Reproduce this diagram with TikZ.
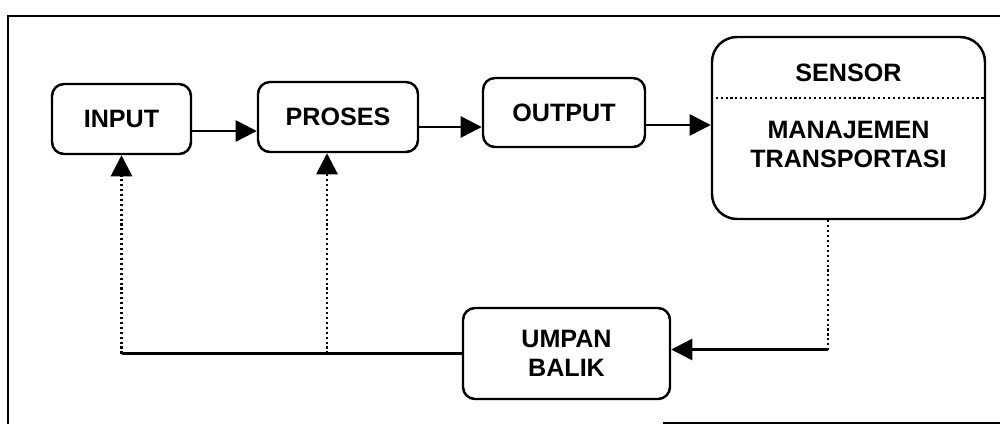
\documentclass[tikz,border=0pt]{standalone}
\usepackage{fontspec}
\setmainfont{Liberation Sans}
\usepackage{tikz}
\usetikzlibrary{arrows.meta}

\begin{document}
\begin{tikzpicture}[
        box/.style={draw, line width=1.4pt, rounded corners=0.24cm, align=center, font=\bfseries\fontsize{14.3}{16.5}\selectfont},
        label/.style={align=center, font=\bfseries\fontsize{14.3}{16.5}\selectfont},
        arr/.style={-{Triangle[length=12pt, width=12pt]}, line width=1.4pt},
        dotline/.style={line width=1.6pt, dash pattern=on 1.2pt off 1.6pt},
        dotarr/.style={dotline, -{Triangle[length=12pt, width=12pt]}}
    ]
    \useasboundingbox (0,0) rectangle (20,-8.48);

    % Frame (right side is cut off)
    \draw[line width=1.4pt] (20,-0.32) -- (0.16,-0.32) -- (0.16,-8.48);
    \draw[line width=1.4pt] (13.26,-8.46) -- (20,-8.46);

    % Top row
    \node[box, minimum width=2.78cm, minimum height=1.4cm] (input) at (2.43,-2.38) {INPUT};
    \node[box, minimum width=3.2cm, minimum height=1.4cm] (proses) at (6.76,-2.34) {PROSES};
    \node[box, minimum width=3.24cm, minimum height=1.38cm] (output) at (11.28,-2.25) {OUTPUT};

    % Sensor box with dotted divider
    \node[draw, line width=1.4pt, rounded corners=0.5cm, minimum width=5.46cm, minimum height=3.64cm] (sensor) at (16.97,-2.56) {};
    \node[label] (sensortxt) at (16.97,-1.45) {SENSOR};
    \node[label] (manajemen) at (16.97,-2.89) {MANAJEMEN\\TRANSPORTASI};
    \coordinate (divider) at (0,-1.96);
    \draw[dotline] (sensor.west |- divider) -- (sensor.east |- divider);

    % Feedback
    \node[box, minimum width=4.14cm, minimum height=1.82cm] (umpan) at (11.33,-7.07) {UMPAN\\BALIK};

    % Forward arrows
    \coordinate (a1) at ([yshift=-0.24cm]input.east);
    \coordinate (a2) at ([yshift=-0.2cm]proses.east);
    \coordinate (a3) at ([yshift=-0.25cm]output.east);
    \draw[arr] (a1) -- (a1 -| proses.west);
    \draw[arr] (a2) -- (a2 -| output.west);
    \draw[arr] (a3) -- (a3 -| sensor.west);

    % Sensor back to feedback
    \coordinate (s1) at ([xshift=-0.41cm]sensor.south);
    \coordinate (s2) at (s1 |- 0,-6.99);
    \draw[dotline] (s1) -- (s2);
    \draw[arr] (s2) -- (s2 -| umpan.east);

    % Feedback to input and proses
    \coordinate (f1) at (input.south |- umpan.west);
    \coordinate (p1) at ([xshift=-0.22cm]proses.south);
    \draw[line width=1.4pt] (umpan.west) -- (f1);
    \draw[dotarr] (f1) -- (input.south);
    \draw[dotarr] (p1 |- umpan.west) -- (p1);
\end{tikzpicture}
\end{document}
